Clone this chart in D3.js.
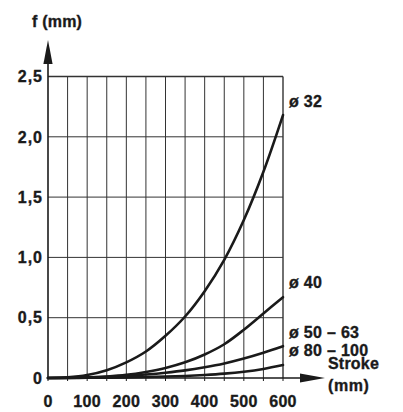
<!DOCTYPE html>
<html>
<head>
<meta charset="utf-8">
<script src="https://cdn.jsdelivr.net/npm/d3@7"></script>
<style>
  html, body { margin: 0; padding: 0; background: #fff; }
  text { font-family: "Liberation Sans", Arial, sans-serif; font-weight: bold; fill: #1a1a1a; stroke: #1a1a1a; stroke-width: 0.35px; }
</style>
</head>
<body>
<svg id="chart" width="403" height="412"></svg>
<script>
// ---- data ----
const strokes = [0, 50, 100, 150, 200, 250, 300, 350, 400, 450, 500, 550, 600];
const d32   = [0, 0.006, 0.025, 0.065, 0.13, 0.22, 0.35, 0.51, 0.72, 0.98, 1.31, 1.71, 2.18];
const d40   = [0, 0.002, 0.006, 0.013, 0.026, 0.05, 0.083, 0.13, 0.195, 0.28, 0.40, 0.535, 0.67];
const d5063 = [0, 0.001, 0.004, 0.009, 0.017, 0.029, 0.044, 0.063, 0.089, 0.121, 0.162, 0.21, 0.264];
const d80100= [0, 0.000, 0.002, 0.003, 0.005, 0.008, 0.012, 0.017, 0.025, 0.036, 0.052, 0.075, 0.107];
const seriesNames = ["ø 32", "ø 40", "ø 50 – 63", "ø 80 – 100"];
const xTicks = [0, 100, 200, 300, 400, 500, 600];
const yTicks = [0, 0.5, 1.0, 1.5, 2.0, 2.5];
const yTickLabels = ["0", "0,5", "1,0", "1,5", "2,0", "2,5"];
const yTitle = "f (mm)";
const xTitle = ["Stroke", "(mm)"];

const series = [d32, d40, d5063, d80100];

const svg = d3.select("#chart");
const x = d3.scaleLinear().domain([0, 600]).range([48, 283]);
const y = d3.scaleLinear().domain([0, 2.5]).range([378, 76.5]);
const ink = "#1a1a1a";

// vertical grid every 50
const g = svg.append("g");
g.selectAll("line.v").data(d3.range(50, 601, 50)).enter().append("line")
  .attr("x1", d => x(d)).attr("x2", d => x(d))
  .attr("y1", y(0)).attr("y2", y(2.5))
  .attr("stroke", "#333").attr("stroke-width", d => d === 600 ? 1.4 : 1);
// horizontal grid
g.selectAll("line.h").data(yTicks.slice(1)).enter().append("line")
  .attr("x1", x(0)).attr("x2", x(600))
  .attr("y1", d => y(d)).attr("y2", d => y(d))
  .attr("stroke", "#333").attr("stroke-width", d => d === 2.5 ? 1.4 : 1);

// axes (lines + arrows)
svg.append("line").attr("x1", x(0)).attr("x2", x(0)).attr("y1", y(0) + 1).attr("y2", 60)
  .attr("stroke", ink).attr("stroke-width", 1.6);
svg.append("path").attr("d", `M${x(0)},40 L${x(0) - 4.6},64 L${x(0) + 4.6},64 Z`).attr("fill", ink);
svg.append("line").attr("x1", x(0)).attr("x2", 305).attr("y1", y(0)).attr("y2", y(0))
  .attr("stroke", ink).attr("stroke-width", 1.6);
svg.append("path").attr("d", `M325,${y(0)} L300,${y(0) - 4.6} L300,${y(0) + 4.6} Z`).attr("fill", ink);

// small tick marks under x axis
svg.selectAll("line.xt").data(d3.range(0, 601, 50)).enter().append("line")
  .attr("x1", d => x(d)).attr("x2", d => x(d))
  .attr("y1", y(0)).attr("y2", y(0) + 3)
  .attr("stroke", ink).attr("stroke-width", 1);

// tick labels
svg.selectAll("text.yt").data(yTicks).enter().append("text")
  .attr("x", 43).attr("y", d => y(d)).attr("dy", "0.36em")
  .attr("text-anchor", "end").attr("font-size", 16).attr("letter-spacing", 1)
  .text((d, i) => yTickLabels[i]);
svg.selectAll("text.xt").data(xTicks).enter().append("text")
  .attr("x", d => x(d)).attr("y", 406.5)
  .attr("text-anchor", "middle").attr("font-size", 16).attr("letter-spacing", 0.3)
  .text(d => d);

// titles
svg.append("text").attr("x", 32).attr("y", 27).attr("font-size", 16).attr("letter-spacing", 0.2).text(yTitle);
svg.append("text").attr("x", 328).attr("y", 369).attr("font-size", 16).attr("letter-spacing", 0.2).text(xTitle[0]);
svg.append("text").attr("x", 328).attr("y", 391).attr("font-size", 16).attr("letter-spacing", 0.6).text(xTitle[1]);

// curves
const line = d3.line().x((d, i) => x(strokes[i])).y(d => y(d)).curve(d3.curveCatmullRom);
svg.selectAll("path.curve").data(series).enter().append("path")
  .attr("d", d => line(d)).attr("fill", "none")
  .attr("stroke", ink).attr("stroke-width", 2.6).attr("stroke-linecap", "round");

// curve labels
const labelY = [107, 287.5, 337.5, 356];
svg.selectAll("text.sl").data(seriesNames).enter().append("text")
  .attr("x", 289).attr("y", (d, i) => labelY[i])
  .attr("font-size", 16).attr("letter-spacing", 0.3)
  .text(d => d);
</script>
</body>
</html>
